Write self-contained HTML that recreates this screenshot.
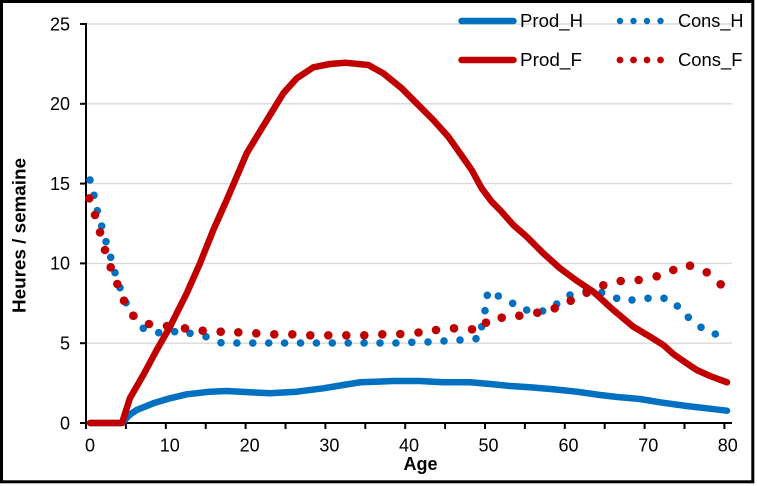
<!DOCTYPE html>
<html><head><meta charset="utf-8"><style>
html,body{margin:0;padding:0;background:#fff;}
svg{display:block;}
text{font-family:"Liberation Sans",Arial,sans-serif;fill:#000;}
</style></head><body>
<svg width="757" height="486" viewBox="0 0 757 486" xmlns="http://www.w3.org/2000/svg">
<rect x="0" y="0" width="757" height="486" fill="#fff"/>
<rect x="1.5" y="1.5" width="751.3" height="480.3" fill="none" stroke="#000" stroke-width="3"/>
<!-- gridlines -->
<g stroke="#d9d9d9" stroke-width="1.4">
<line x1="86" y1="24" x2="732" y2="24"/>
<line x1="86" y1="103.8" x2="732" y2="103.8"/>
<line x1="86" y1="183.6" x2="732" y2="183.6"/>
<line x1="86" y1="263.4" x2="732" y2="263.4"/>
<line x1="86" y1="343.2" x2="732" y2="343.2"/>
</g>
<!-- axes -->
<g stroke="#000" stroke-width="2">
<line x1="86" y1="23" x2="86" y2="424"/>
<line x1="85" y1="423" x2="732" y2="423"/>
<line x1="80" y1="24" x2="86" y2="24"/>
<line x1="80" y1="103.8" x2="86" y2="103.8"/>
<line x1="80" y1="183.6" x2="86" y2="183.6"/>
<line x1="80" y1="263.4" x2="86" y2="263.4"/>
<line x1="80" y1="343.2" x2="86" y2="343.2"/>
<line x1="80" y1="423" x2="86" y2="423"/>
<line x1="86" y1="423" x2="86" y2="429"/>
<line x1="125.9" y1="423" x2="125.9" y2="429"/>
<line x1="165.8" y1="423" x2="165.8" y2="429"/>
<line x1="205.7" y1="423" x2="205.7" y2="429"/>
<line x1="245.6" y1="423" x2="245.6" y2="429"/>
<line x1="285.5" y1="423" x2="285.5" y2="429"/>
<line x1="325.4" y1="423" x2="325.4" y2="429"/>
<line x1="365.3" y1="423" x2="365.3" y2="429"/>
<line x1="405.2" y1="423" x2="405.2" y2="429"/>
<line x1="445.1" y1="423" x2="445.1" y2="429"/>
<line x1="485" y1="423" x2="485" y2="429"/>
<line x1="524.9" y1="423" x2="524.9" y2="429"/>
<line x1="564.8" y1="423" x2="564.8" y2="429"/>
<line x1="604.7" y1="423" x2="604.7" y2="429"/>
<line x1="644.6" y1="423" x2="644.6" y2="429"/>
<line x1="684.5" y1="423" x2="684.5" y2="429"/>
<line x1="724.4" y1="423" x2="724.4" y2="429"/>
</g>
<!-- y tick labels -->
<g font-size="18" text-anchor="end">
<text x="70" y="30.3">25</text>
<text x="70" y="110.1">20</text>
<text x="70" y="189.9">15</text>
<text x="70" y="269.7">10</text>
<text x="70" y="349.5">5</text>
<text x="70" y="429.3">0</text>
</g>
<!-- x tick labels -->
<g font-size="18" text-anchor="middle">
<text x="90" y="451.5">0</text>
<text x="169.8" y="451.5">10</text>
<text x="249.6" y="451.5">20</text>
<text x="329.4" y="451.5">30</text>
<text x="409" y="451.5">40</text>
<text x="488.5" y="451.5">50</text>
<text x="568.5" y="451.5">60</text>
<text x="648.3" y="451.5">70</text>
<text x="727.8" y="451.5">80</text>
</g>
<!-- axis titles -->
<text x="420.5" y="470" font-size="18" font-weight="bold" text-anchor="middle">Age</text>
<text transform="translate(25.3,235.5) rotate(-90)" font-size="18" font-weight="bold" text-anchor="middle" textLength="155" lengthAdjust="spacingAndGlyphs">Heures / semaine</text>

<!-- Prod_H -->
<polyline fill="none" stroke="#0070c0" stroke-width="6.5" stroke-linejoin="round" stroke-linecap="round"
points="90,423 122,423 130,414.5 136.7,410 153.3,403.3 170,398.3 186.7,394.3 210,391.7 226.7,391 250,392.3 270,393.3 296.7,391.7 323.3,388.3 343.3,385 360,382.3 393.3,381 420,381 443.3,382.3 470,382.3 490,384 510,386 530,387.3 553.3,389.3 576.7,391.7 600,395 620,397.3 640,399 660,402.3 686.7,406 706.7,408.3 727,410.7"/>

<!-- Cons_H dots -->
<g fill="#0070c0">
<circle cx="90" cy="180" r="3.8"/><circle cx="94" cy="195.3" r="3.8"/><circle cx="97.3" cy="210.7" r="3.8"/><circle cx="101.7" cy="226" r="3.8"/><circle cx="106" cy="241.7" r="3.8"/><circle cx="110.7" cy="257.3" r="3.8"/><circle cx="115" cy="272.7" r="3.8"/><circle cx="120" cy="287.7" r="3.8"/><circle cx="126" cy="302.7" r="3.8"/><circle cx="134" cy="316" r="3.8"/><circle cx="143.3" cy="328.3" r="3.8"/><circle cx="158.7" cy="332.7" r="3.8"/><circle cx="174.7" cy="331.7" r="3.8"/><circle cx="190" cy="333.3" r="3.8"/><circle cx="206" cy="336.7" r="3.8"/><circle cx="221" cy="342.7" r="3.8"/>
<circle cx="236.9" cy="343" r="3.8"/><circle cx="252.8" cy="343" r="3.8"/><circle cx="268.7" cy="343" r="3.8"/><circle cx="284.6" cy="343" r="3.8"/><circle cx="300.5" cy="343" r="3.8"/><circle cx="316.4" cy="343" r="3.8"/><circle cx="332.3" cy="343" r="3.8"/><circle cx="348.2" cy="343" r="3.8"/><circle cx="364.1" cy="343" r="3.8"/><circle cx="380" cy="343" r="3.8"/><circle cx="395.9" cy="343" r="3.8"/><circle cx="411.8" cy="342.3" r="3.8"/><circle cx="428" cy="342" r="3.8"/>
<circle cx="444" cy="341" r="3.8"/><circle cx="460" cy="340" r="3.8"/><circle cx="476" cy="338.7" r="3.8"/><circle cx="481.7" cy="326.7" r="3.8"/><circle cx="485" cy="310.7" r="3.8"/><circle cx="487.3" cy="295.3" r="3.8"/><circle cx="498.3" cy="296" r="3.8"/><circle cx="512.7" cy="303.3" r="3.8"/><circle cx="526.7" cy="310" r="3.8"/><circle cx="542.7" cy="311" r="3.8"/><circle cx="556.7" cy="304" r="3.8"/><circle cx="570" cy="295" r="3.8"/><circle cx="586" cy="291" r="3.8"/><circle cx="601.7" cy="292.7" r="3.8"/><circle cx="616.7" cy="298.3" r="3.8"/><circle cx="632" cy="300" r="3.8"/><circle cx="648" cy="298.3" r="3.8"/><circle cx="664" cy="298.3" r="3.8"/><circle cx="677.3" cy="306" r="3.8"/><circle cx="688.3" cy="317.3" r="3.8"/><circle cx="701" cy="327.3" r="3.8"/><circle cx="715.3" cy="334" r="3.8"/>
</g>

<!-- Prod_F -->
<polyline fill="none" stroke="#c00000" stroke-width="6.5" stroke-linejoin="round" stroke-linecap="round"
points="90,423 122,423 130,398 143.3,375 156.7,350 170,326.7 186.7,293.3 200,263.3 213.3,230 226.7,200 236.7,176.7 246.7,153.3 256.7,136.7 270,115 283.3,93.3 296.7,78.3 313.3,67.3 330,64 345,62.7 368.3,65 383.3,73.3 401.7,88.3 420,106.7 433.3,120 448.3,136.7 460,153.3 471.7,170 481.7,188.3 491.7,201.7 500,210 513.3,225 526.7,236.7 543.3,253.3 560,268.3 576.7,280.7 593.3,291.7 613.3,310 633.3,326.7 650,336.7 663.3,345 673.3,354 686.7,363.3 696.7,370 710,376 727,382.3"/>

<!-- Cons_F dots -->
<g fill="#c00000">
<circle cx="89.3" cy="198.3" r="4.3"/><circle cx="95" cy="215" r="4.3"/><circle cx="100" cy="232.3" r="4.3"/><circle cx="105" cy="250" r="4.3"/><circle cx="110.7" cy="267.3" r="4.3"/><circle cx="117.3" cy="284" r="4.3"/><circle cx="124" cy="300.7" r="4.3"/><circle cx="133.3" cy="315.7" r="4.3"/><circle cx="149" cy="324" r="4.3"/><circle cx="167" cy="326" r="4.3"/><circle cx="185" cy="328.3" r="4.3"/><circle cx="202.7" cy="330.7" r="4.3"/><circle cx="220.7" cy="331.7" r="4.3"/><circle cx="238.3" cy="332.3" r="4.3"/><circle cx="256.3" cy="333.3" r="4.3"/><circle cx="274.3" cy="334.3" r="4.3"/><circle cx="292.3" cy="334.3" r="4.3"/><circle cx="310.3" cy="335.3" r="4.3"/><circle cx="328.3" cy="335.3" r="4.3"/><circle cx="346.3" cy="335.3" r="4.3"/><circle cx="364.3" cy="335.3" r="4.3"/><circle cx="382.3" cy="334.3" r="4.3"/><circle cx="400.3" cy="334" r="4.3"/><circle cx="418.5" cy="332.5" r="4.3"/>
<circle cx="436" cy="330" r="4.3"/><circle cx="454" cy="328.3" r="4.3"/><circle cx="472" cy="329.3" r="4.3"/><circle cx="486" cy="322.7" r="4.3"/><circle cx="501.7" cy="317.7" r="4.3"/><circle cx="519.3" cy="315.7" r="4.3"/><circle cx="537.3" cy="312.7" r="4.3"/><circle cx="554.7" cy="308.3" r="4.3"/><circle cx="570.7" cy="300.7" r="4.3"/><circle cx="586.7" cy="292.7" r="4.3"/><circle cx="603.3" cy="285.3" r="4.3"/><circle cx="620.7" cy="281" r="4.3"/><circle cx="638.7" cy="280" r="4.3"/><circle cx="656.7" cy="276.3" r="4.3"/><circle cx="673.3" cy="270" r="4.3"/><circle cx="690" cy="265.7" r="4.3"/><circle cx="706.7" cy="272.3" r="4.3"/><circle cx="720.7" cy="284.3" r="4.3"/>
</g>

<!-- legend -->
<line x1="461.5" y1="21" x2="513.5" y2="21" stroke="#0070c0" stroke-width="6.5" stroke-linecap="round"/>
<line x1="461.5" y1="60" x2="513.5" y2="60" stroke="#c00000" stroke-width="6.5" stroke-linecap="round"/>
<g fill="#0070c0">
<circle cx="620" cy="21" r="3.2"/><circle cx="633.5" cy="21" r="3.2"/><circle cx="647" cy="21" r="3.2"/><circle cx="660.5" cy="21" r="3.2"/>
</g>
<g fill="#c00000">
<circle cx="620" cy="60" r="3.4"/><circle cx="633.5" cy="60" r="3.4"/><circle cx="647" cy="60" r="3.4"/><circle cx="660.5" cy="60" r="3.4"/>
</g>
<g font-size="18">
<text x="520" y="27" textLength="63" lengthAdjust="spacingAndGlyphs">Prod_H</text>
<text x="520" y="66" textLength="62" lengthAdjust="spacingAndGlyphs">Prod_F</text>
<text x="678" y="27" textLength="65.5" lengthAdjust="spacingAndGlyphs">Cons_H</text>
<text x="678" y="66" textLength="64.5" lengthAdjust="spacingAndGlyphs">Cons_F</text>
</g>
</svg>
</body></html>
